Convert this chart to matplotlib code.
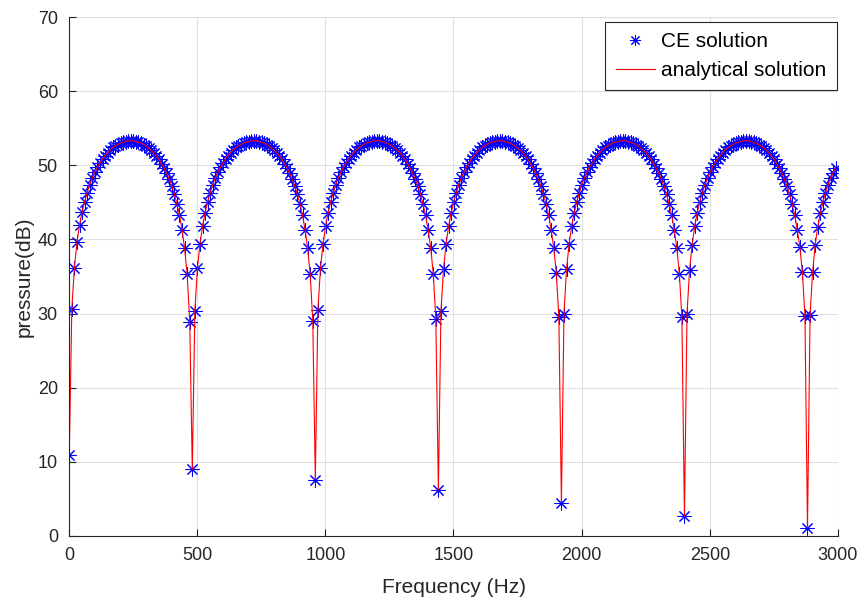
import numpy as np
import matplotlib
matplotlib.use("Agg")
import matplotlib.pyplot as plt

plt.rcParams["font.family"] = ["Liberation Sans", "DejaVu Sans"]

# sample frequencies (Hz): 1, 11, 21, ..., 2991
freq = np.arange(1, 3000, 10)

# pressure (dB), one list per arch (48 points each, last one partial)
arch_0 = [10.9, 30.6, 36.2, 39.6, 41.9, 43.7, 45.1, 46.3, 47.4, 48.3, 49.1, 49.8,
          50.3, 50.9, 51.3, 51.7, 52.1, 52.4, 52.6, 52.8, 53.0, 53.1, 53.2, 53.3,
          53.3, 53.3, 53.2, 53.1, 53.0, 52.8, 52.6, 52.3, 52.0, 51.7, 51.2, 50.8,
          50.2, 49.6, 48.9, 48.1, 47.2, 46.1, 44.8, 43.3, 41.3, 38.8, 35.3, 28.9]
arch_1 = [9.0, 30.4, 36.1, 39.4, 41.8, 43.6, 45.1, 46.3, 47.4, 48.3, 49.1, 49.8,
          50.3, 50.9, 51.3, 51.7, 52.1, 52.4, 52.6, 52.8, 53.0, 53.1, 53.2, 53.3,
          53.3, 53.3, 53.2, 53.1, 53.0, 52.8, 52.6, 52.3, 52.0, 51.7, 51.2, 50.8,
          50.2, 49.6, 48.9, 48.1, 47.2, 46.1, 44.8, 43.3, 41.3, 38.8, 35.3, 29.0]
arch_2 = [7.6, 30.5, 36.1, 39.4, 41.8, 43.6, 45.1, 46.3, 47.4, 48.3, 49.1, 49.8,
          50.3, 50.9, 51.3, 51.7, 52.1, 52.4, 52.6, 52.8, 53.0, 53.1, 53.2, 53.3,
          53.3, 53.3, 53.2, 53.1, 53.0, 52.8, 52.6, 52.3, 52.0, 51.7, 51.2, 50.8,
          50.2, 49.6, 48.9, 48.1, 47.2, 46.1, 44.8, 43.3, 41.3, 38.9, 35.4, 29.3]
arch_3 = [6.2, 30.3, 36.0, 39.4, 41.8, 43.6, 45.1, 46.3, 47.4, 48.3, 49.1, 49.8,
          50.3, 50.9, 51.3, 51.7, 52.1, 52.4, 52.6, 52.8, 53.0, 53.1, 53.2, 53.3,
          53.3, 53.3, 53.2, 53.1, 53.0, 52.8, 52.6, 52.3, 52.0, 51.7, 51.2, 50.8,
          50.2, 49.6, 48.9, 48.1, 47.2, 46.1, 44.8, 43.3, 41.3, 38.9, 35.5, 29.5]
arch_4 = [4.5, 30.0, 36.0, 39.4, 41.8, 43.6, 45.1, 46.3, 47.4, 48.3, 49.1, 49.8,
          50.3, 50.9, 51.3, 51.7, 52.1, 52.4, 52.6, 52.8, 53.0, 53.1, 53.2, 53.3,
          53.3, 53.3, 53.2, 53.1, 53.0, 52.8, 52.6, 52.3, 52.0, 51.7, 51.2, 50.8,
          50.2, 49.6, 48.9, 48.1, 47.2, 46.1, 44.8, 43.3, 41.3, 38.9, 35.4, 29.5]
arch_5 = [2.7, 30.0, 35.9, 39.3, 41.8, 43.6, 45.1, 46.3, 47.4, 48.3, 49.1, 49.8,
          50.3, 50.9, 51.3, 51.7, 52.1, 52.4, 52.6, 52.8, 53.0, 53.1, 53.2, 53.3,
          53.3, 53.3, 53.2, 53.1, 53.0, 52.8, 52.6, 52.3, 52.0, 51.7, 51.2, 50.8,
          50.2, 49.6, 48.9, 48.1, 47.2, 46.1, 44.8, 43.3, 41.3, 39.0, 35.6, 29.7]
arch_6 = [1.1, 29.8, 35.6, 39.3, 41.7, 43.5, 45.0, 46.3, 47.3, 48.3, 49.0, 49.7]

pressure = np.concatenate([arch_0, arch_1, arch_2, arch_3, arch_4, arch_5, arch_6])

fig = plt.figure(figsize=(8.61, 6.04), dpi=100)
ax = fig.add_axes([69 / 861, 1 - 536 / 604, (838 - 69) / 861, (536 - 17) / 604])

ax.plot(freq, pressure, linestyle="none", marker=(8, 2, 0), markersize=10,
        markeredgewidth=0.75, color="#0000ff", label="CE solution")
ax.plot(freq, pressure, color="#ff0000", linewidth=0.8, label="analytical solution")

ax.set_xlim(0, 3000)
ax.set_ylim(0, 70)
ax.set_xticks(np.arange(0, 3001, 500))
ax.set_yticks(np.arange(0, 71, 10))

axis_color = "#262626"
ax.grid(True, color="#dfdfdf", linewidth=0.8)
ax.set_axisbelow(True)
for side in ["top", "right"]:
    ax.spines[side].set_visible(False)
for side in ["left", "bottom"]:
    ax.spines[side].set_color(axis_color)
    ax.spines[side].set_linewidth(0.8)
ax.tick_params(direction="in", length=5, width=0.8, colors=axis_color,
               labelsize=13, pad=8)

ax.set_xlabel("Frequency (Hz)", fontsize=15, color=axis_color, labelpad=10)
ax.set_ylabel("pressure(dB)", fontsize=15, color=axis_color, labelpad=3)

leg = ax.legend(loc="upper right", bbox_to_anchor=(837 / 861, 1 - 22 / 604),
                bbox_transform=fig.transFigure, borderaxespad=0,
                fontsize=15, handlelength=1.9, handletextpad=0.3,
                fancybox=False, framealpha=1, edgecolor=axis_color,
                borderpad=0.5, labelspacing=0.45)
leg.get_frame().set_linewidth(0.8)
for h in leg.legend_handles:
    h.set_markersize(8)

fig.savefig("out.png", dpi=100)
